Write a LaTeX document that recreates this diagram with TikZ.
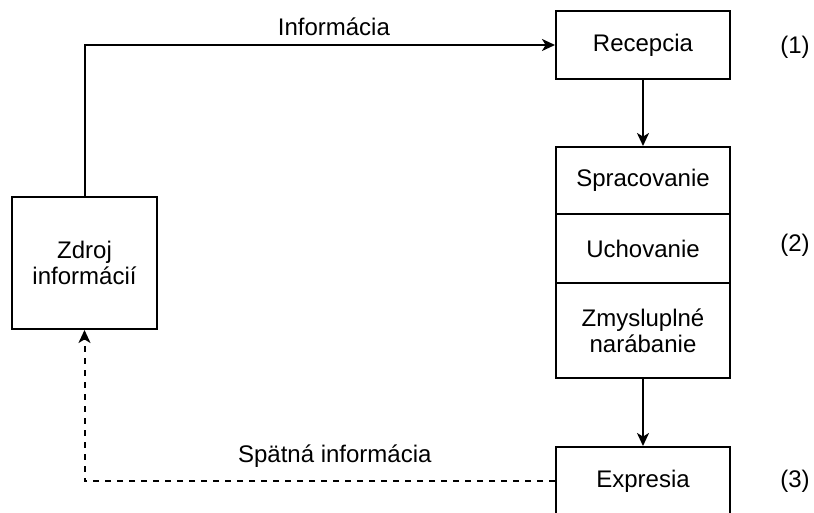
\documentclass[tikz,border=0pt]{standalone}
\usepackage{fontspec}
\setmainfont{Liberation Sans}
\usetikzlibrary{arrows.meta}
\begin{document}
\begin{tikzpicture}[x=0.5pt,y=-0.5pt,
  txt/.style={font=\fontsize{12}{13}\selectfont},
  box/.style={txt, draw, line width=1pt, rectangle, inner sep=0pt, align=center,
              minimum width=87pt},
  arr/.style={line width=1pt, -{Stealth[length=6.5pt,width=6pt,inset=1.8pt]}},
  fb/.style={arr, dash pattern=on 3pt off 3pt},
  lbl/.style={txt, anchor=base, inner sep=0pt}]
\useasboundingbox (0,0) rectangle (814,513);
\clip (0,0) rectangle (814,513);

% stages of processing
\node[box, minimum height=34pt]   (rec) at (643,45)    {Recepcia};
\node[box, minimum height=33.5pt] (spr) at (643,180.5) {Spracovanie};
\node[box, minimum height=34.5pt] (uch) at (643,248.5) {Uchovanie};
\node[box, minimum height=47.5pt] (zmy) at (643,330.5) {Zmysluplné\\narábanie};
\node[box, minimum height=34pt]   (exp) at (643,481)   {Expresia};

% source
\node[box, minimum width=72.5pt, minimum height=66pt] (src) at (84.5,263) {Zdroj\\informácií};

% stage numbers
\node[txt] (n1) at (795,47)  {(1)};
\node[txt] (n2) at (795,245) {(2)};
\node[txt] (n3) at (795,481) {(3)};

% flows
\draw[arr] (src.north) |- node[lbl, pos=0.765, yshift=4.5pt] {Informácia} (rec.west);
\draw[arr] (rec.south) -- (spr.north);
\draw[arr] (zmy.south) -- (exp.north);
\draw[fb] (exp.west) -| node[lbl, pos=0.234, yshift=9.5pt] {Spätná informácia} (src.south);
\end{tikzpicture}
\end{document}
